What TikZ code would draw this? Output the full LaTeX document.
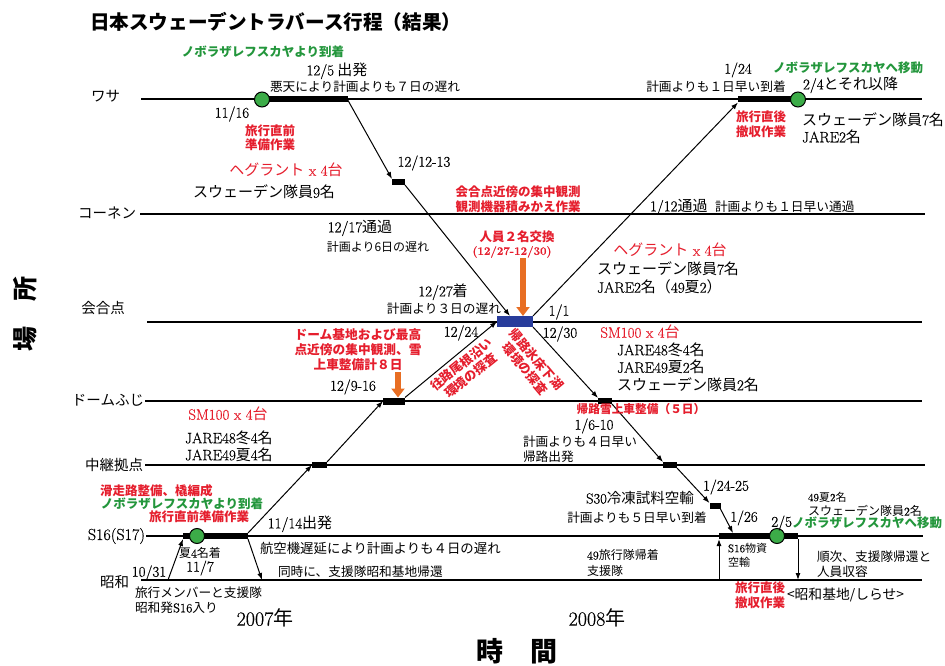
\documentclass[tikz,border=0pt]{standalone}
\usepackage{fontspec}
\setmainfont{Noto Sans CJK JP}
\newfontfamily\lat{Latin Modern Roman}[FakeBold=0.5]
\usetikzlibrary{arrows.meta}
\definecolor{jred}{RGB}{229,30,45}
\definecolor{jgreen}{RGB}{35,150,60}
\definecolor{cfill}{RGB}{60,172,72}
\definecolor{jorange}{RGB}{232,110,35}
\definecolor{jblue}{RGB}{40,60,155}
\newcommand\fsz[2]{\fontsize{#1}{#2}\selectfont}
\newcommand\ltn[1]{{\lat #1}}
\begin{document}
\begin{tikzpicture}[x=1pt,y=-1pt,
  every node/.style={inner sep=0pt, outer sep=0pt},
  hline/.style={line width=1.3pt},
  arr/.style={line width=1pt, -{Latex[length=7pt,width=5pt]}},
  oarr/.style={draw=jorange, line width=6.5pt, -{Triangle[length=9pt,width=13pt]}},
  blk/.style={fill=black, minimum height=6pt},
  gdot/.style={circle, fill=cfill, draw=black, line width=1pt, minimum size=15pt},
  lab/.style={font=\fsz{14.5}{17}},
  nt/.style={font=\fsz{12.7}{15}},
  big/.style={font=\fsz{15}{18}},
  dt/.style={font=\lat\fsz{15}{17}},
  rb/.style={font=\bfseries\fsz{12.5}{14.5}, text=jred, align=center},
  gb/.style={font=\bfseries\fsz{12.5}{14.5}, text=jgreen},
  hr/.style={font=\fsz{15}{18}, text=jred},
]
\useasboundingbox (0,0) rectangle (945,666);

% horizontal lines
\coordinate (wasaL) at (141,99);  \coordinate (wasaR) at (922,99);
\coordinate (koneL) at (140,214); \coordinate (koneR) at (925,214);
\coordinate (kaiL) at (147,322);  \coordinate (kaiR) at (922,322);
\coordinate (domeL) at (145,401); \coordinate (domeR) at (922,401);
\coordinate (chuL) at (145,465);  \coordinate (chuR) at (925,465);
\coordinate (s16L) at (146,536);  \coordinate (s16R) at (923,536);
\coordinate (shoL) at (141,580);  \coordinate (shoR) at (922,580);
\foreach \a/\b in {wasaL/wasaR,koneL/koneR,kaiL/kaiR,domeL/domeR,chuL/chuR,s16L/s16R,shoL/shoR}
  \draw[hline] (\a) -- (\b);

% bars and blocks
\node[blk, minimum width=85pt] (wbar1) at (305,99.5) {};
\node[blk, minimum width=59pt] (wbar2) at (767.5,99.5) {};
\node[blk, minimum width=65pt] (sbar1) at (215.5,536) {};
\node[blk, minimum width=79pt] (sbar2) at (758.5,536) {};
\node[blk, minimum width=13pt] (blk1) at (398.5,182) {};
\node[blk, minimum width=14pt] (blk3) at (605,401) {};
\node[blk, minimum width=14pt] (blk4) at (670,465) {};
\node[blk, minimum width=11pt] (blk5) at (715,506) {};
\node[blk, minimum width=15pt] (blk6) at (319.5,465) {};
\node[blk, minimum width=22pt, minimum height=7pt] (blk7) at (394,401) {};
\node[fill=jblue, minimum width=36pt, minimum height=11pt] (blue) at (515,321.5) {};

% green circles
\node[gdot] (cw1) at (262,99.5) {};
\node[gdot] (cw2) at (798,99.5) {};
\node[gdot] (cs1) at (197,536) {};
\node[gdot] (cs2) at (777,536) {};

% trajectory connectors
\draw[arr] (wbar1.east) -- (blk1.north west);
\draw[arr] (blk1.south east) -- ([xshift=-5pt]blue.north);
\draw[arr] (blue.south east) -- (blk3.north west);
\draw[arr] (blk3.south east) -- (blk4.north west);
\draw[arr] (blk4.south east) -- (blk5.north west);
\draw[arr] (blk5.south east) -- ([xshift=14pt]sbar2.north west);
\coordinate (su) at (719,580);
\coordinate (sd) at (798,580);
\draw[arr] (su) -- (sbar2.south west);
\draw[arr] (sbar2.south east) -- (sd);
\coordinate (l1) at (168,580);
\coordinate (l2) at (262,580);
\draw[arr] (l1) -- (sbar1.south west);
\draw[arr] (sbar1.south east) -- (l2);
\draw[arr] (sbar1.north east) -- (blk6.west);
\draw[arr] (blk6.north east) -- (blk7.west);
\draw[arr] (blk7.north east) -- (blue.west);
\draw[arr] (blue.north east) -- (wbar2.south west);

% orange arrows
\coordinate (o1) at (523,258);
\coordinate (o2) at (398,372);
\draw[oarr] (o1) -- (o1 |- blue.north);
\draw[oarr] (o2) -- (o2 |- blk7.north);

% titles
\node[font=\bfseries\fsz{19.6}{22}, anchor=west] (title) at (90,22) {日本スウェーデントラバース行程（結果）};
\node[font=\bfseries\fsz{25}{25}, rotate=90] (ybl) at (25,314) {場　所};
\node[font=\bfseries\fsz{27}{27}] (xbl) at (517,651) {時　間};

% line labels
\node[lab, anchor=east] (nwasa) at (120,96) {ワサ};
\node[lab, anchor=east] (nkone) at (136,213) {コーネン};
\node[lab] (nkai) at (103,308) {会合点};
\node[lab, anchor=east] (ndome) at (144,400) {ドームふじ};
\node[lab, anchor=east] (nchu) at (143,465) {中継拠点};
\node[font=\lat\fsz{16}{18}, anchor=east] (ns16) at (145,536) {S16(S17)};
\node[lab, anchor=east] (nsho) at (129,582) {昭和};
\node[dt] (t42) at (149,573) {10/31};

% green texts
\node[gb] (g1) at (263,52) {ノボラザレフスカヤより到着};
\node[gb] (g2) at (848,68) {ノボラザレフスカヤへ移動};
\node[gb] (g3) at (182,504) {ノボラザレフスカヤより到着};
\node[gb, anchor=west] (g4) at (792,523) {ノボラザレフスカヤへ移動};

% red bold texts
\node[rb] (r1) at (270,138) {旅行直前\\準備作業};
\node[rb] (r2) at (518,199) {会合点近傍の集中観測\\観測機器積みかえ作業};
\node[rb] (r3) at (517,237) {人員２名交換};
\node[rb, font=\lat\bfseries\fsz{11.5}{13}] (r3b) at (512,252) {(12/27-12/30)};
\node[rb, font=\bfseries\fsz{12.7}{15}] (r4) at (358,350) {ドーム基地および最高\\点近傍の集中観測、雪\\上車整備計８日};
\node[rb, rotate=39] (r5) at (466,370) {往路尾根沿い\\環境の探査};
\node[rb, rotate=-50] (r6) at (531,364) {帰路氷床下湖\\環境の探査};
\node[rb, font=\bfseries\fsz{11.7}{14}] (r7) at (641,409) {帰路雪上車整備（５日）};
\node[rb, anchor=west] (r8) at (100,491) {滑走路整備、橇編成};
\node[rb] (r9) at (199,517) {旅行直前準備作業};
\node[rb] (r10) at (761,124) {旅行直後\\撤収作業};
\node[rb] (r11) at (760,595) {旅行直後\\撤収作業};

% red regular
\node[hr] (h1) at (286,170) {ヘグラント\ltn{ x 4}台};
\node[hr] (h2) at (670,250) {ヘグラント\ltn{ x 4}台};
\node[hr] (h3) at (640,332) {\ltn{SM100 x 4}台};
\node[hr] (h4) at (228,414) {\ltn{SM100 x 4}台};

% black texts
\node[big] (t1) at (337,71) {\ltn{12/5} 出発};
\node[nt] (t2) at (365,87) {悪天により計画よりも７日の遅れ};
\node[dt] (t3) at (232,114) {11/16};
\node[big] (t4) at (264,192) {スウェーデン隊員\ltn{9}名};
\node[dt] (t5) at (424,163) {12/12-13};
\node[big] (t6) at (360,228) {\ltn{12/17}通過};
\node[font=\fsz{12}{14}] (t7) at (378,247) {計画より6日の遅れ};
\node[big] (t8) at (443,292) {\ltn{12/27}着};
\node[nt] (t9) at (444,309) {計画より３日の遅れ};
\node[dt] (t10) at (559,312) {1/1};
\node[dt] (t11) at (461,333) {12/24};
\node[dt] (t12) at (560,334) {12/30};
\node[anchor=west, align=left, font=\fsz{15}{17.5}] (t13) at (617,367) {\ltn{JARE48}冬\ltn{4}名\\\ltn{JARE49}夏\ltn{2}名\\スウェーデン隊員\ltn{2}名};
\node[anchor=west, align=left, font=\fsz{15}{18}] (t14) at (597,278) {スウェーデン隊員\ltn{7}名\\\ltn{JARE2}名（\ltn{49}夏\ltn{2}）};
\node[dt] (t15) at (353,387) {12/9-16};
\node[big, anchor=west] (t16a) at (650,207) {\ltn{1/12}通過};
\node[nt, anchor=west] (t16b) at (715,207) {計画よりも１日早い通過};
\node[dt] (t17a) at (738,70) {1/24};
\node[nt] (t17b) at (716,87) {計画よりも１日早い到着};
\node[big, anchor=west] (t18) at (803,85) {\ltn{2/4}とそれ以降};
\node[anchor=west, align=left, font=\fsz{15}{17}] (t19) at (802,128) {スウェーデン隊員\ltn{7}名\\\ltn{JARE2}名};
\node[dt] (t20) at (594,426) {1/6-10};
\node[nt, anchor=west, align=left] (t21) at (523,449) {計画よりも４日早い\\帰路出発};
\node[anchor=west, align=left, font=\fsz{15}{17}] (t22) at (185,446) {\ltn{JARE48}冬\ltn{4}名\\\ltn{JARE49}夏\ltn{4}名};
\node[big] (t23) at (300,524) {\ltn{11/14}出発};
\node[font=\fsz{13.4}{15}, anchor=west] (t24) at (260,548) {航空機遅延により計画よりも４日の遅れ};
\node[nt, anchor=west] (t25) at (278,572) {同時に、支援隊昭和基地帰還};
\node[font=\fsz{12}{14}] (t26) at (200,553) {夏\ltn{4}名着};
\node[dt] (t27) at (200,568) {11/7};
\node[nt, anchor=west, align=left] (t28) at (135,600) {旅行メンバーと支援隊\\昭和発\ltn{S16}入り};
\node[font=\fsz{20}{22}] (t29) at (265,618) {\ltn{2007}年};
\node[font=\fsz{20}{22}] (t30) at (597,618) {\ltn{2008}年};
\node[font=\fsz{14.5}{17}] (t31) at (640,498) {\ltn{S30}冷凍試料空輸};
\node[nt] (t32) at (637,518) {計画よりも５日早い到着};
\node[dt] (t33) at (726,487) {1/24-25};
\node[dt] (t34) at (744,518) {1/26};
\node[dt, anchor=east] (t35) at (792,523) {2/5};
\node[font=\fsz{11}{13}, anchor=west] (t36) at (808,497) {\ltn{49}夏\ltn{2}名};
\node[font=\fsz{12}{14}, anchor=west] (t37) at (808,511) {スウェーデン隊員\ltn{2}名};
\node[font=\fsz{11}{14}, anchor=west, align=left] (t38) at (728,555) {\ltn{S16}物資\\空輸};
\node[font=\fsz{12}{16}, anchor=west, align=left] (t39) at (587,563) {\ltn{49}旅行隊帰着\\支援隊};
\node[nt, anchor=west, align=left] (t40) at (817,564) {順次、支援隊帰還と\\人員収容};
\node[font=\fsz{13.8}{16}, anchor=west] (t41) at (787,595) {<昭和基地/しらせ>};
\end{tikzpicture}
\end{document}
